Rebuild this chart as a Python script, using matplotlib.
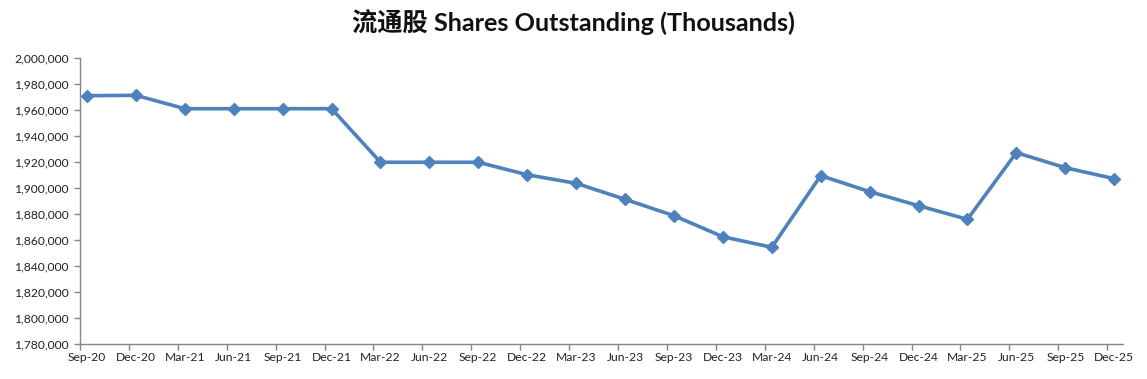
import matplotlib
matplotlib.use('Agg')
import matplotlib.pyplot as plt
import numpy as np
from matplotlib.ticker import FuncFormatter, FixedLocator

quarters = ['Sep-20', 'Dec-20', 'Mar-21', 'Jun-21', 'Sep-21', 'Dec-21',
            'Mar-22', 'Jun-22', 'Sep-22', 'Dec-22', 'Mar-23', 'Jun-23',
            'Sep-23', 'Dec-23', 'Mar-24', 'Jun-24', 'Sep-24', 'Dec-24',
            'Mar-25', 'Jun-25', 'Sep-25', 'Dec-25']
shares = [1971000, 1971300, 1961000, 1961000, 1961000, 1961000,
          1919800, 1919800, 1919800, 1910200, 1903600, 1891300,
          1878700, 1862500, 1854400, 1909500, 1897200, 1886400,
          1875900, 1927200, 1915600, 1907200]
title = '流通股 Shares Outstanding (Thousands)'

plt.rcParams['font.family'] = ['Lato', 'Noto Sans CJK SC', 'DejaVu Sans']

fig = plt.figure(figsize=(11.47, 3.79), dpi=100)
ax = fig.add_axes([80 / 1147, 1 - 344 / 379, (1123 - 80) / 1147, (344 - 58) / 379])

x = np.arange(len(quarters))
ax.plot(x, shares, color='#4F81BD', linewidth=2.6, marker='D', markersize=6,
        markerfacecolor='#4F81BD', markeredgecolor='#4F81BD')

ax.set_xlim(-0.143, len(quarters) - 1 + 0.18)
ax.set_ylim(1780000, 2000000)
ax.set_yticks(np.arange(1780000, 2000001, 20000))
ax.yaxis.set_major_formatter(FuncFormatter(lambda v, p: f'{v:,.0f}'))

# labels sit on the points, tick marks a bit to the left (Excel style)
ax.set_xticks(x)
ax.set_xticklabels(quarters)
ax.xaxis.set_minor_locator(FixedLocator(x - 0.143))
ax.tick_params(axis='x', which='major', length=0, pad=6, labelsize=8.7, colors='#222222')
ax.tick_params(axis='x', which='minor', length=4, width=1, color='#868686')
ax.tick_params(axis='y', length=4, width=1, color='#868686', pad=4, labelsize=8.7,
               labelcolor='#222222')

for s in ['top', 'right']:
    ax.spines[s].set_visible(False)
for s in ['left', 'bottom']:
    ax.spines[s].set_color('#868686')
    ax.spines[s].set_linewidth(1)

fig.text(0.5, 1 - 22 / 379, title, ha='center', va='center', fontsize=18.2,
         fontweight='bold', color='#111111')

fig.savefig('out.png', dpi=100)
